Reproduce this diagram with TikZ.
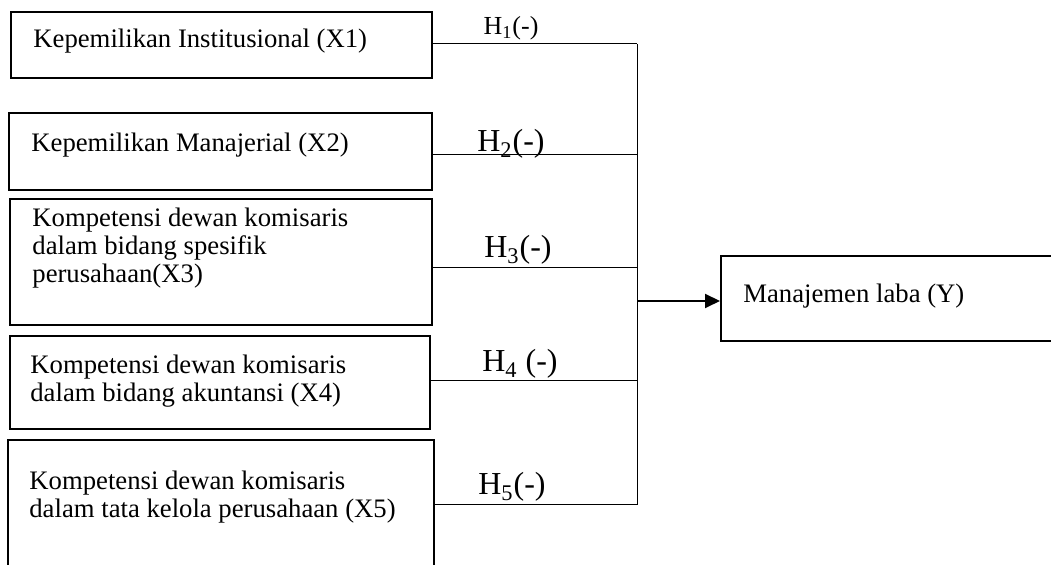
\documentclass[tikz,border=0pt]{standalone}
\usepackage{fontspec}
\setmainfont{Liberation Serif}
\usetikzlibrary{arrows.meta}

\tikzset{
  varbox/.style={draw, line width=1pt, inner sep=0pt},
  boxtext/.style={anchor=base west, inner sep=0pt, align=left,
    font=\fontsize{13.35}{14}\selectfont},
  hlabel/.style={anchor=base, inner sep=0pt, font=\fontsize{16}{18}\selectfont},
  link/.style={line width=0.5pt}
}

\begin{document}
\begin{tikzpicture}[x=0.5pt, y=-0.5pt]
    \useasboundingbox (0,0) rectangle (1051,565);
    \clip (0,0) rectangle (1051,565);

    % Variable boxes
    \node[varbox, minimum width=210.5pt, minimum height=33pt] (x1) at (221.5,45) {};
    \node[varbox, minimum width=211.5pt, minimum height=38.5pt] (x2) at (220.5,151.5) {};
    \node[varbox, minimum width=211pt, minimum height=63pt] (x3) at (221,262) {};
    \node[varbox, minimum width=210pt, minimum height=46.5pt] (x4) at (220,382.5) {};
    \node[varbox, minimum width=213pt, minimum height=80pt] (x5) at (221,520) {};
    \node[varbox, minimum width=189.5pt, minimum height=42.5pt] (y) at (910.5,298.5) {};

    % Box texts (anchored at the baseline of the last line)
    \node[boxtext] (tx1) at (33,48) {Kepemilikan Institusional (X1)};
    \node[boxtext] (tx2) at (31,152) {Kepemilikan Manajerial (X2)};
    \node[boxtext] (tx3) at (32,283) {Kompetensi dewan komisaris\\dalam bidang spesifik\\perusahaan(X3)};
    \node[boxtext] (tx4) at (30,402) {Kompetensi dewan komisaris\\dalam bidang akuntansi (X4)};
    \node[boxtext] (tx5) at (29,518) {Kompetensi dewan komisaris\\dalam tata kelola perusahaan (X5)};
    \node[boxtext] (ty) at (743,303) {Manajemen laba (Y)};

    % Junction points
    \coordinate (h1) at (637,44);
    \coordinate (h2) at (637,155);
    \coordinate (h3) at (637,268);
    \coordinate (h4) at (637,381);
    \coordinate (h5) at (637,505);
    \coordinate (hy) at (637,301);

    % Hypothesis lines
    \draw[link] (h1 -| x1.east) -- (h1);
    \draw[link] (h2 -| x2.east) -- (h2);
    \draw[link] (h3 -| x3.east) -- (h3);
    \draw[link] (h4 -| x4.east) -- (h4);
    \draw[link] (h5 -| x5.east) -- (h5);
    \draw[link] (h1) -- (h5);
    \draw[line width=1pt, -{Triangle[length=7.5pt, width=7pt]}] (hy) -- (hy -| y.west);

    % Hypothesis labels
    \node[hlabel, font=\fontsize{13}{15}\selectfont] (l1) at (511,35) {H\textsubscript{1}(-)};
    \node[hlabel] (l2) at (511,152) {H\textsubscript{2}(-)};
    \node[hlabel] (l3) at (518,258) {H\textsubscript{3}(-)};
    \node[hlabel] (l4) at (520,372) {H\textsubscript{4} (-)};
    \node[hlabel] (l5) at (512,495) {H\textsubscript{5}(-)};
\end{tikzpicture}
\end{document}
